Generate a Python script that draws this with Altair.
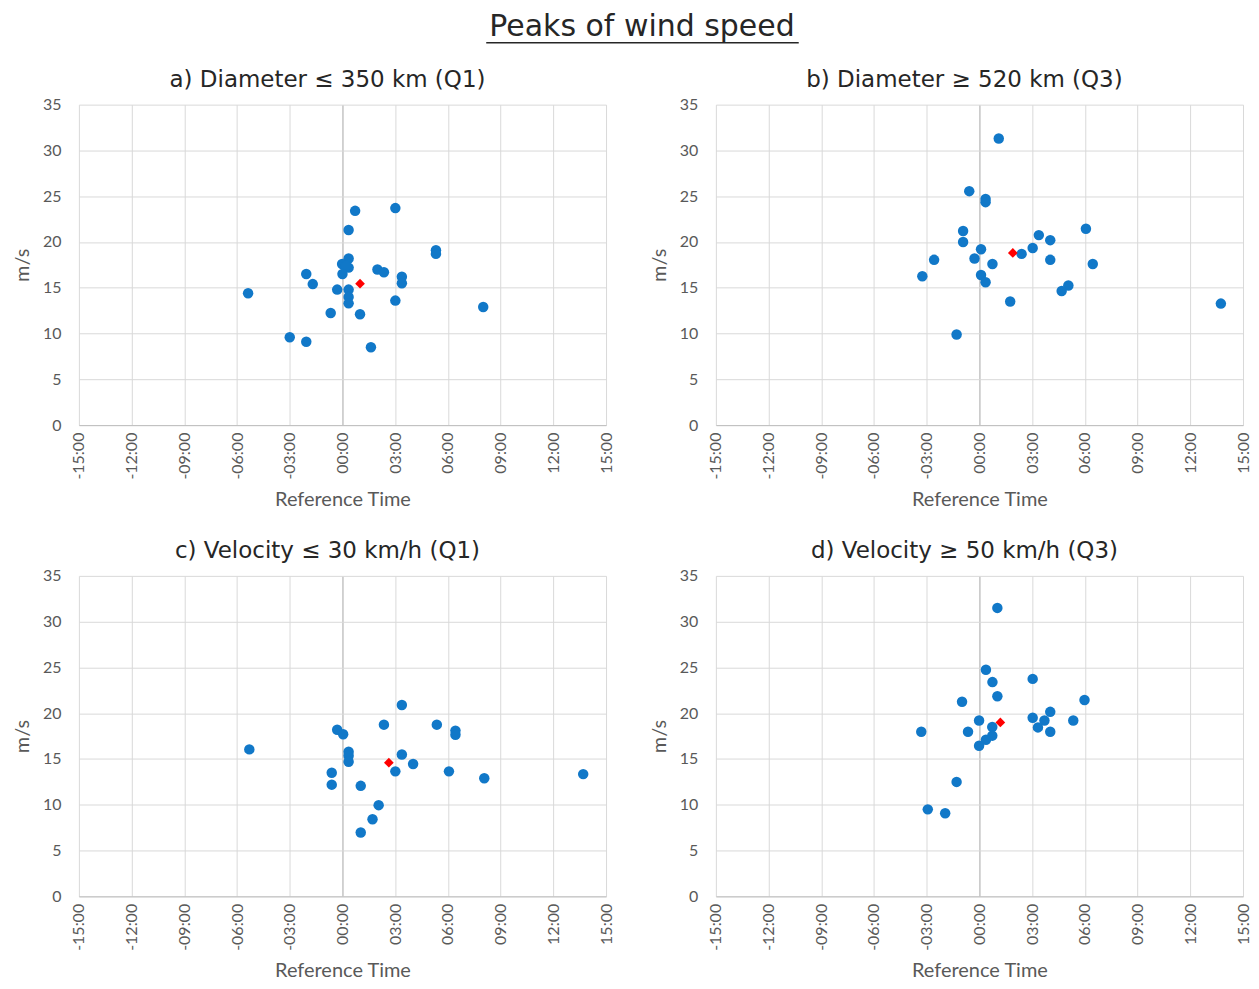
import altair as alt
import pandas as pd

# ---------------- data (hours relative to reference time, wind speed m/s) ----------------
a_time = [0.72, 3.01, 0.35, 5.32, 5.32, 0.35, -0.02, 0.35, 0.2, 0.0, -2.06, 1.99, 2.36, 3.38, 3.38,
          -1.69, -5.37, -0.3, 0.35, 0.35, 0.35, 3.01, 8.01, -0.67, 1.0, -3.0, -2.06, 1.62]
a_speed = [23.4, 23.7, 21.3, 19.1, 18.7, 18.2, 17.6, 17.2, 17.4, 16.5, 16.5, 17.0, 16.7, 16.2, 15.5,
           15.4, 14.4, 14.8, 14.8, 14.0, 13.3, 13.6, 12.9, 12.25, 12.1, 9.6, 9.1, 8.5]
a_mean = [1.0, 15.45]

b_time = [1.10, -0.58, 0.35, 0.35, -0.93, 6.06, 3.38, 4.03, -0.93, 0.09, 3.03, 2.40, -2.58, -0.28,
          4.03, 0.74, 6.45, -3.25, 0.09, 0.35, 5.06, 4.68, 1.75, 13.74, -1.30]
b_speed = [31.3, 25.55, 24.7, 24.35, 21.2, 21.45, 20.75, 20.2, 20.0, 19.2, 19.35, 18.7, 18.05, 18.2,
           18.05, 17.6, 17.6, 16.25, 16.4, 15.6, 15.25, 14.65, 13.5, 13.27, 9.9]
b_mean = [1.90, 18.8]

c_time = [3.38, 2.36, 5.37, -0.3, 0.04, 6.43, 6.43, -5.3, 0.35, 0.35, 0.35, 3.38, 4.02, 3.01, 6.06,
          -0.61, 8.07, 13.7, -0.61, 1.04, 2.06, 1.71, 1.04]
c_speed = [20.9, 18.75, 18.75, 18.2, 17.7, 18.1, 17.65, 16.05, 15.8, 15.35, 14.7, 15.5, 14.45, 13.65,
           13.65, 13.5, 12.9, 13.35, 12.2, 12.07, 9.96, 8.42, 6.97]
c_mean = [2.64, 14.6]

d_time = [1.02, 0.37, 0.74, 3.03, 1.02, -0.99, 5.98, 4.03, 3.03, 3.70, 5.34, -0.02, 0.73, 3.33, -3.31,
          -0.65, 4.03, 0.73, 0.37, -0.02, -1.30, -2.94, -1.95]
d_speed = [31.5, 24.75, 23.4, 23.75, 21.85, 21.25, 21.45, 20.15, 19.5, 19.2, 19.2, 19.2, 18.5, 18.45,
           17.98, 17.98, 17.98, 17.55, 17.1, 16.45, 12.5, 9.5, 9.08]
d_mean = [1.19, 19.0]

titles = ["a) Diameter ≤ 350 km (Q1)", "b) Diameter ≥ 520 km (Q3)",
          "c) Velocity ≤ 30 km/h (Q1)", "d) Velocity ≥ 50 km/h (Q3)"]
main_title = "Peaks of wind speed"
x_ticks = [-15, -12, -9, -6, -3, 0, 3, 6, 9, 12, 15]
y_ticks = [0, 5, 10, 15, 20, 25, 30, 35]

BLUE = "#1178c8"
RED = "#ff0000"
LABEL_FONT = "Lato"
TITLE_FONT = "DejaVu Sans"
W, H = 528, 321


def frame(t, s, m):
    df = pd.DataFrame({"time": t, "speed": s, "kind": "peak"})
    mdf = pd.DataFrame({"time": [m[0]], "speed": [m[1]], "kind": ["mean"]})
    return pd.concat([df, mdf], ignore_index=True)


grid_color = {"condition": {"test": "datum.value === 0", "value": "#a6a6a6"}, "value": "#d9d9d9"}


def panel(df, title):
    x = alt.X("time:Q", scale=alt.Scale(domain=[-15, 15], nice=False, zero=False),
              axis=alt.Axis(values=x_ticks, labelAngle=270, ticks=False,
                            labelExpr="(datum.value < 0 ? '-' : '') + (abs(datum.value) < 10 ? '0' : '') + abs(datum.value) + ':00'",
                            title="Reference Time", gridColor=grid_color, domainColor="#bfbfbf",
                            labelPadding=7, titlePadding=10, labelFlush=False, labelOverlap=False))
    y = alt.Y("speed:Q", scale=alt.Scale(domain=[0, 35], nice=False),
              axis=alt.Axis(values=y_ticks, ticks=False, domain=False, title="m/s",
                            gridColor="#d9d9d9", labelPadding=18, titlePadding=10))
    pts = alt.Chart(df).mark_point(filled=True, opacity=1, strokeWidth=0).encode(
        x=x, y=y,
        shape=alt.Shape("kind:N", scale=alt.Scale(domain=["peak", "mean"], range=["circle", "diamond"]), legend=None),
        color=alt.Color("kind:N", scale=alt.Scale(domain=["peak", "mean"], range=[BLUE, RED]), legend=None),
        size=alt.Size("kind:N", scale=alt.Scale(domain=["peak", "mean"], range=[110, 95]), legend=None),
        order=alt.Order("kind:N", sort="descending"),
    )
    return pts.properties(
        width=W, height=H,
        title=alt.TitleParams(title, font=TITLE_FONT, fontSize=23, fontWeight="normal", color="#262626",
                              anchor="middle", frame="group", dx=-15, offset=5),
    )


pa = panel(frame(a_time, a_speed, a_mean), titles[0])
pb = panel(frame(b_time, b_speed, b_mean), titles[1])
pc = panel(frame(c_time, c_speed, c_mean), titles[2])
pd_ = panel(frame(d_time, d_speed, d_mean), titles[3])

# header view (its origin lines up with the plot area of panel a)
head_df = pd.DataFrame({"label": [main_title]})
head_text = alt.Chart(head_df).mark_text(font=TITLE_FONT, fontSize=30, color="#262626", baseline="middle",
                                         align="center").encode(
    text="label:N", x=alt.value(564), y=alt.value(15))
head_rule = alt.Chart(head_df).mark_rule(color="#262626", strokeWidth=1.5).encode(
    x=alt.value(408), x2=alt.value(721), y=alt.value(31))
head = alt.layer(head_text, head_rule).properties(width=1000, height=40)

row1 = alt.hconcat(pa, pb, spacing=35)
row2 = alt.hconcat(pc, pd_, spacing=35)
body = alt.vconcat(row1, row2, spacing=30)

chart = alt.vconcat(head, body, spacing=17).properties(
    padding={"left": 4, "top": 3, "right": 0, "bottom": 0}
).configure_view(
    strokeWidth=0
).configure_axis(
    labelFont=LABEL_FONT, labelFontSize=16, labelColor="#595959",
    titleFont=LABEL_FONT, titleFontSize=20, titleColor="#595959", titleFontWeight="normal",
    gridWidth=1,
)

chart.save("out.html", embed_options={"renderer": "svg", "actions": False})
